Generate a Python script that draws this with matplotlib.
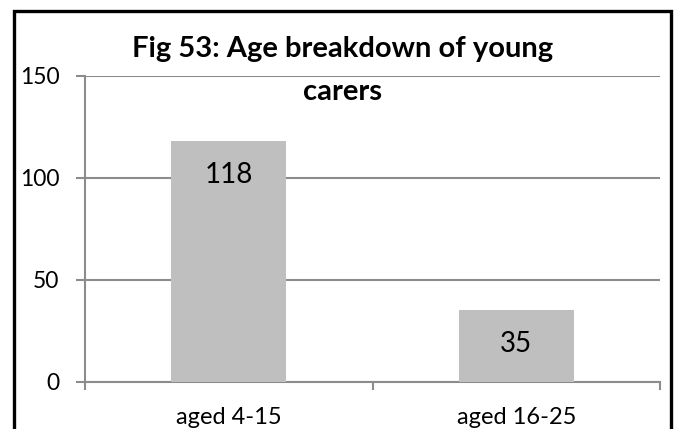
import matplotlib
matplotlib.use("Agg")
import matplotlib.pyplot as plt
from matplotlib.patches import Rectangle

categories = ["aged 4-15", "aged 16-25"]
counts = [118, 35]
y_ticks = [0, 50, 100, 150]
title_lines = ["Fig 53: Age breakdown of young", "carers"]

plt.rcParams["font.family"] = ["Lato", "DejaVu Sans"]

W, H, DPI = 675, 429, 100
fig = plt.figure(figsize=(W / DPI, H / DPI), dpi=DPI)
fig.patch.set_facecolor("white")

# plot area in pixel terms, converted to figure fractions
left, right, top, bottom = 85, 660, 75.7, 381.7
ax = fig.add_axes([left / W, 1 - bottom / H, (right - left) / W, (bottom - top) / H])

grid_col = "#8c8c8c"
xpos = list(range(len(categories)))
bars = ax.bar(xpos, counts, width=0.4, color="#bfbfbf", zorder=3)

ax.set_xlim(-0.5, len(categories) - 0.5)
ax.set_ylim(0, 150)
ax.set_yticks(y_ticks)
ax.yaxis.grid(True, color=grid_col, linewidth=1.5, zorder=0)
ax.set_axisbelow(True)

for side in ("top", "right"):
    ax.spines[side].set_visible(False)
for side in ("left", "bottom"):
    ax.spines[side].set_color(grid_col)
    ax.spines[side].set_linewidth(1.5)

# category boundaries carry the x tick marks, labels sit at bar centres
ax.set_xticks([-0.5, 0.5, 1.5])
ax.set_xticklabels([])
ax.set_xticks(xpos, minor=True)
ax.set_xticklabels(categories, minor=True)
ax.tick_params(axis="x", which="major", length=6, width=1.5, color=grid_col, direction="out")
ax.tick_params(axis="x", which="minor", length=0, pad=18, labelsize=17)
ax.tick_params(axis="y", length=6.5, width=1.5, color=grid_col, pad=12, labelsize=16.5)

for rect, val in zip(bars, counts):
    ax.annotate(str(val), (rect.get_x() + rect.get_width() / 2, val),
                xytext=(0, -24.5), textcoords="offset points",
                ha="center", va="center", fontsize=20, zorder=4)

for txt, ypix in zip(title_lines, (49, 92)):
    fig.text(343 / W, 1 - ypix / H, txt, ha="center", va="center",
             fontsize=21, fontweight="bold")

# outer black frame running off the bottom edge
fig.patches.append(Rectangle((14 / W, -0.1), (671 - 14) / W, 1.1 - 11 / H,
                             transform=fig.transFigure, fill=False,
                             edgecolor="black", linewidth=2.4))

fig.savefig("out.png", dpi=DPI)
